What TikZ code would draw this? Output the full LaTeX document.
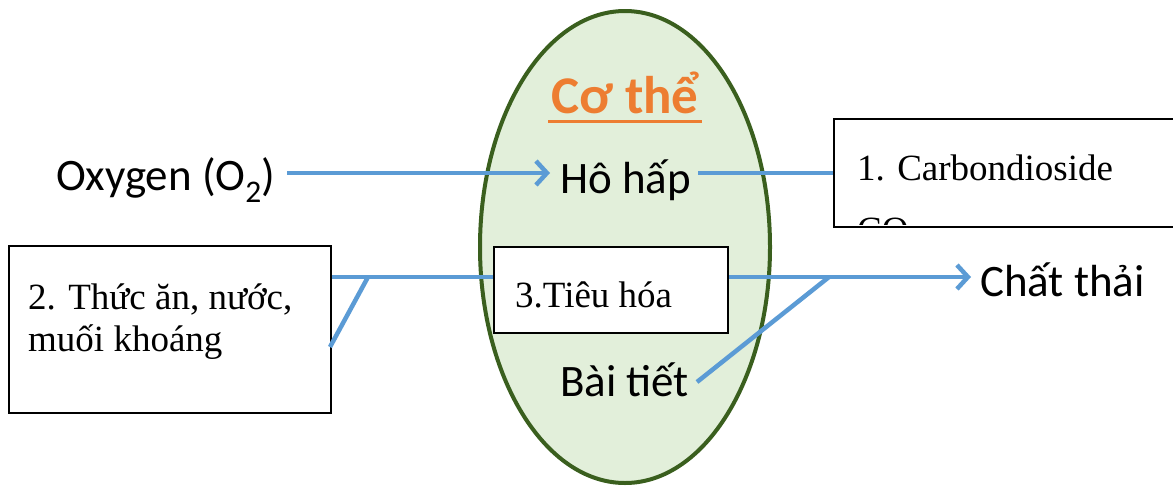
\documentclass[tikz,border=0pt]{standalone}
\usepackage{fontspec}
\setmainfont{Liberation Serif}
\newfontfamily\calib{Carlito}
\usetikzlibrary{arrows.meta,shapes.geometric}
\definecolor{flow}{HTML}{5B9BD5}
\definecolor{bodyfill}{HTML}{E2EFDA}
\definecolor{bodyline}{HTML}{3A5F1E}
\definecolor{titleorange}{HTML}{ED7D31}
\tikzset{
  label/.style={inner sep=0pt, font=\calib\fontsize{45}{52}\selectfont},
  textbox/.style={draw=black, line width=2pt, fill=white, inner sep=0pt, anchor=north west},
  boxtext/.style={anchor=base west, inner sep=0pt, font=\fontsize{37}{42}\selectfont},
  flowline/.style={draw=flow, line width=4.5pt},
  flowarrow/.style={flowline, -{Straight Barb[length=11pt,width=24pt,line width=4.5pt]}}
}
\begin{document}
\begin{tikzpicture}[x=1pt,y=-1pt]
\useasboundingbox (0,0) rectangle (1173,488);

% the body
\node[ellipse, draw=bodyline, line width=4pt, fill=bodyfill,
      minimum width=290pt, minimum height=472pt, inner sep=0pt] (body) at (625,247) {};

% title
\node[inner sep=0pt, text=titleorange, font=\calib\bfseries\fontsize{53}{60}\selectfont]
  (title) at (625,93) {Cơ thể};
\draw[titleorange, line width=3pt] (548,121) -- (702,121);

% labels
\node[label, anchor=west] (oxy) at (56,180) {Oxygen (O\textsubscript{2})};
\node[label, anchor=west] (hohap) at (560,180) {Hô hấp};
\node[label, anchor=west] (baitiet) at (560,380) {Bài tiết};
\node[label, anchor=west] (chatthai) at (980,280) {Chất thải};

% boxes
\node[textbox, minimum width=340pt, minimum height=108pt] (co2box) at (833,118) {};
\node[boxtext] (co2a) at (857,180) {1. Carbondioside};
\begin{scope}
  \clip (835,120) rectangle (1171,224);
  \node[boxtext] (co2b) at (857,242) {CO\textsubscript{2}};
\end{scope}

\node[textbox, minimum width=322pt, minimum height=167pt] (food) at (8,245) {};
\node[boxtext] (foodtxt) at (28,309) {2. Thức ăn, nước,};
\node[boxtext] (foodtxt2) at (28,351) {muối khoáng};

\node[textbox, minimum width=234pt, minimum height=86pt] (tieuhoa) at (493,246) {};
\node[boxtext] (tieuhoatxt) at (515,307) {3.Tiêu hóa};

% connectors
\coordinate (j1) at (368,277);
\coordinate (j2) at (829,277);
\coordinate (foodout) at (330,347);
\coordinate (oxystart) at (287,173);
\coordinate (hohapin) at (550,173);
\coordinate (hohapout) at (698,173);
\coordinate (chatin) at (971,277);
\coordinate (btout) at (697,382);

\draw[flowarrow] (oxystart) -- (hohapin);
\draw[flowline] (hohapout) -- (co2box.west |- hohapout);
\draw[flowline] (food.east |- j1) -- (tieuhoa.west |- j1);
\draw[flowline] (foodout) -- (j1);
\draw[flowarrow] (tieuhoa.east |- j2) -- (chatin);
\draw[flowline] (btout) -- (j2);
\end{tikzpicture}
\end{document}
